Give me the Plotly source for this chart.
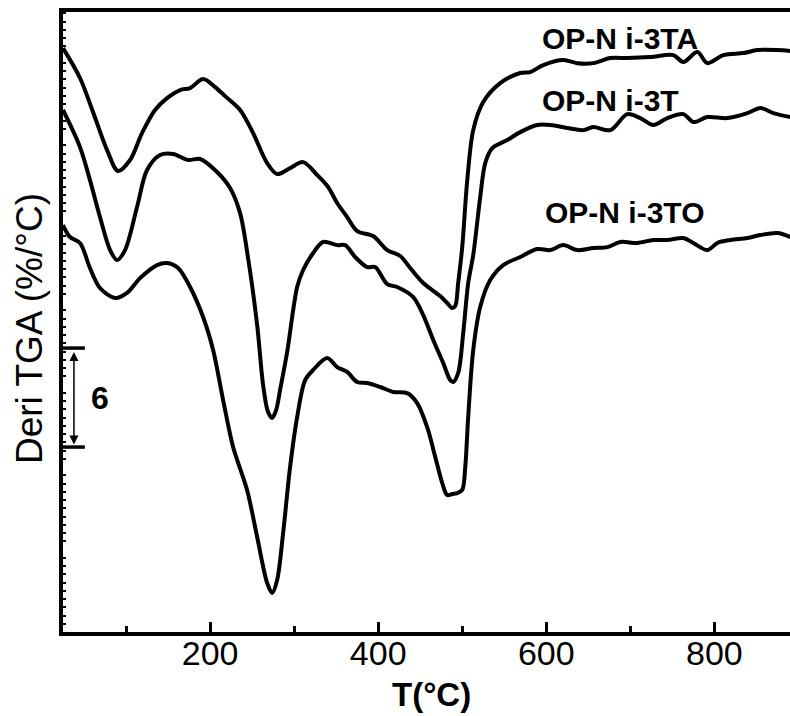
import plotly.graph_objects as go

# Temperature (°C) and derivative TGA values (%/°C, offset curves)
T_3TA = [25.0, 45.2, 60.7, 77.4, 90.5, 104.8, 119.0, 134.5, 148.8, 164.3, 176.2, 191.7, 206.0, 217.9,
         235.7, 251.2, 267.9, 279.8, 295.2, 310.7, 327.4, 340.5, 351.2, 363.1, 375.0, 394.0, 410.7,
         426.2, 438.1, 453.6, 473.8, 482.1, 488.1, 491.7, 495.2, 500.0, 506.0, 513.1, 525.0, 545.2,
         569.0, 581.0, 596.4, 620.2, 636.9, 656.0, 676.2, 696.4, 723.8, 751.2, 763.1, 779.8, 791.7,
         810.7, 834.5, 851.2, 875.0, 890.5]
Y_3TA = [35.39, 33.58, 31.52, 29.21, 27.94, 28.61, 30.24, 31.64, 32.36, 32.85, 32.97, 33.52, 33.03, 32.48,
         31.64, 30.24, 28.42, 27.76, 28.12, 28.48, 27.70, 26.97, 26.00, 25.15, 24.30, 24.00, 23.15,
         22.79, 22.06, 21.15, 20.36, 19.94, 19.64, 19.76, 21.15, 23.33, 27.39, 30.42, 32.12, 33.27,
         33.88, 33.94, 34.36, 34.67, 34.48, 34.48, 34.79, 34.79, 34.85, 34.97, 34.55, 35.15, 34.48,
         34.97, 35.09, 35.27, 35.27, 35.21]

T_3T = [25.0, 45.2, 57.1, 69.0, 81.0, 89.3, 98.8, 113.1, 125.0, 140.5, 156.0, 173.8, 188.1, 208.3,
        223.8, 235.7, 245.2, 256.0, 263.1, 269.0, 273.8, 278.6, 283.3, 291.7, 303.6, 310.7, 322.6,
        334.5, 351.2, 360.7, 372.6, 386.9, 396.4, 410.7, 422.6, 441.7, 453.6, 465.5, 477.4, 485.7,
        489.3, 495.2, 501.2, 507.1, 513.1, 521.4, 527.4, 535.7, 553.6, 569.0, 589.3, 604.8, 625.0,
        644.0, 655.9, 676.2, 696.4, 711.9, 727.4, 744.0, 763.1, 775.0, 791.7, 815.5, 839.3, 854.8,
        870.2, 890.5]
Y_3T = [31.64, 29.39, 27.39, 25.15, 23.15, 22.55, 23.15, 25.76, 28.00, 28.91, 28.97, 28.61, 28.67, 27.88,
        26.91, 25.39, 22.67, 18.61, 14.97, 13.33, 12.97, 13.45, 14.67, 16.97, 20.91, 21.94, 22.97,
        23.64, 23.45, 23.45, 22.73, 22.12, 22.12, 21.09, 20.91, 20.30, 19.21, 17.70, 16.30, 15.27,
        15.15, 15.70, 18.12, 21.15, 22.85, 26.36, 28.42, 29.33, 29.82, 30.30, 30.73, 30.73, 30.55,
        30.42, 30.61, 30.42, 31.39, 31.15, 30.73, 31.15, 31.39, 30.91, 31.21, 31.15, 31.45, 31.76,
        31.45, 31.21]

T_3TO = [25.0, 33.3, 45.2, 57.1, 69.0, 86.9, 101.2, 116.7, 136.9, 148.8, 161.9, 176.2, 191.7, 203.6,
         215.5, 227.4, 244.0, 256.0, 267.9, 273.8, 279.8, 286.9, 295.2, 303.6, 313.1, 322.6, 339.3,
         351.2, 363.1, 375.0, 386.9, 402.4, 417.9, 434.5, 446.4, 458.3, 467.9, 476.2, 482.1, 488.1,
         494.0, 500.0, 503.6, 507.1, 513.1, 521.4, 533.3, 548.8, 569.0, 589.3, 604.8, 620.2, 636.9,
         655.9, 672.6, 688.1, 708.3, 727.4, 744.0, 763.1, 775.0, 791.7, 803.6, 819.0, 839.3, 854.8,
         875.0, 890.5]
Y_3TO = [24.67, 23.94, 23.58, 22.06, 20.85, 20.24, 20.55, 21.45, 22.24, 22.36, 22.06, 20.91, 19.09, 17.09,
         14.06, 11.21, 8.61, 5.76, 2.97, 2.36, 3.15, 6.00, 10.00, 13.03, 15.27, 15.88, 16.61,
         16.06, 15.76, 15.15, 15.09, 14.85, 14.55, 14.48, 13.88, 12.42, 10.61, 9.03, 8.30, 8.36,
         8.42, 8.61, 10.00, 13.03, 17.09, 19.70, 21.33, 22.24, 22.73, 23.21, 23.15, 23.45, 23.15,
         23.27, 23.33, 23.64, 23.58, 23.76, 23.76, 23.88, 23.58, 23.15, 23.58, 23.76, 23.88, 24.06,
         24.18, 23.94]

series_names = ["OP-N i-3TA", "OP-N i-3T", "OP-N i-3TO"]
x_ticks = [200, 400, 600, 800]
x_minor_ticks = [100, 300, 500, 700]
scale_bar = [11.21, 17.21]   # 6 %/°C scale bar

FONT = "Liberation Sans, Arial, sans-serif"

fig = go.Figure()
for xs, ys, nm in [(T_3TA, Y_3TA, series_names[0]), (T_3T, Y_3T, series_names[1]), (T_3TO, Y_3TO, series_names[2])]:
    fig.add_trace(go.Scatter(x=xs, y=ys, mode="lines", name=nm,
                             line=dict(color="black", width=4, shape="spline", smoothing=0.9),
                             showlegend=False))

# curve labels
lab_pos = [(592.9, 36.0), (592.9, 32.2), (596.4, 25.4)]
for nm, (lx, ly) in zip(series_names, lab_pos):
    fig.add_annotation(x=lx, y=ly, text="<b>%s</b>" % nm, showarrow=False, xanchor="left", yanchor="middle",
                       font=dict(family=FONT, size=30, color="black"))

# scale bar
for yv in scale_bar:
    fig.add_shape(type="line", x0=25, x1=51, y0=yv, y1=yv, xref="x", yref="y",
                  line=dict(color="black", width=3.5))
fig.add_annotation(x=38, y=scale_bar[0] + 0.15, ax=38, ay=scale_bar[1] - 0.15, axref="x", ayref="y",
                   xref="x", yref="y", text="", showarrow=True, arrowhead=2, arrowside="end+start",
                   arrowsize=1.2, arrowwidth=1.5, arrowcolor="black")
fig.add_annotation(x=69, y=(scale_bar[0] + scale_bar[1]) / 2, text="<b>6</b>", showarrow=False,
                   font=dict(family=FONT, size=32, color="black"))

# axis titles
fig.add_annotation(xref="paper", yref="paper", x=-0.047, y=0.49, text="Deri TGA (%/°C)", textangle=-90,
                   showarrow=False, xanchor="center", yanchor="middle",
                   font=dict(family=FONT, size=37, color="black"))
fig.add_annotation(xref="x", yref="paper", x=463, y=-0.068, text="<b>T(°C)</b>", showarrow=False,
                   xanchor="center", yanchor="top", font=dict(family=FONT, size=33, color="black"))

fig.update_layout(
    width=790, height=716,
    margin=dict(l=63, r=0, t=12, b=84),
    paper_bgcolor="white", plot_bgcolor="white",
    xaxis=dict(range=[25, 890], tickvals=x_ticks, ticks="inside", ticklen=10, tickwidth=2.5,
               tickcolor="black", showline=True, linewidth=3.5, linecolor="black", mirror=True,
               showgrid=False, zeroline=False, ticklabelstandoff=-12,
               tickfont=dict(family=FONT, size=34, color="black"),
               minor=dict(tickvals=x_minor_ticks, ticks="inside", ticklen=6, tickwidth=2.5,
                          tickcolor="black")),
    yaxis=dict(range=[0, 37.58], showticklabels=False, ticks="", showline=True, linewidth=3.5,
               linecolor="black", showgrid=False, zeroline=False, mirror=False,
               minor=dict(dtick=0.5, ticks="inside", ticklen=3, tickwidth=1.5, tickcolor="black")),
)

fig.write_html("out.html", config={"displayModeBar": False},
               post_script="document.body.style.margin='0px';document.body.style.overflow='hidden';")
